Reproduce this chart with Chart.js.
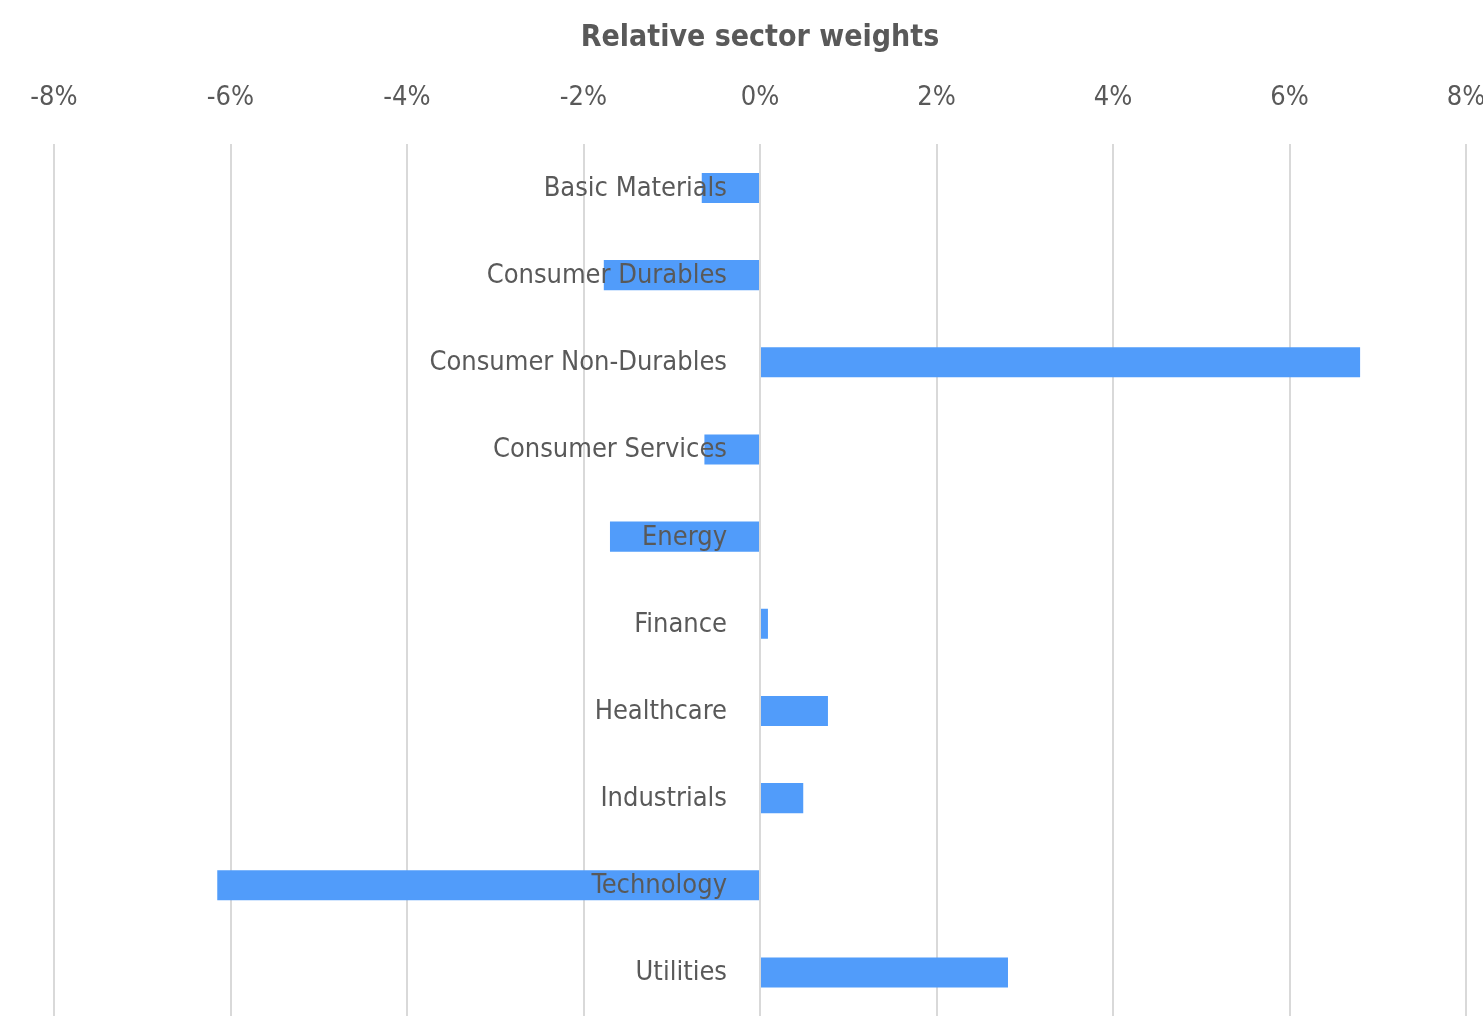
<!DOCTYPE html>
<html>
<head>
<meta charset="utf-8">
<script src="https://cdn.jsdelivr.net/npm/chart.js@4/dist/chart.umd.min.js"></script>
<style>
  html, body { margin: 0; padding: 0; background: #fff; }
  #wrap { width: 1483px; height: 1018px; }
</style>
</head>
<body>
<div id="wrap"><canvas id="chart"></canvas></div>
<script>
const sectors = ['Basic Materials', 'Consumer Durables', 'Consumer Non-Durables', 'Consumer Services',
  'Energy', 'Finance', 'Healthcare', 'Industrials', 'Technology', 'Utilities'];
const weights = [-0.66, -1.77, 6.80, -0.63, -1.70, 0.09, 0.77, 0.49, -6.15, 2.81];
const xTicks = [-8, -6, -4, -2, 0, 2, 4, 6, 8];

const FONT = "'Liberation Sans Narrow', 'DejaVu Sans Condensed', 'Roboto', sans-serif";
const GREY = '#595959';

// category names sit left of the zero line, drawn over the bars
const zeroLabels = {
  id: 'zeroLabels',
  afterDatasetsDraw(chart) {
    const c = chart.ctx;
    const xs = chart.scales.x, ys = chart.scales.y;
    const x0 = xs.getPixelForValue(0) - 33;
    c.save();
    c.font = '27px ' + FONT;
    c.fillStyle = GREY;
    c.textAlign = 'right';
    c.textBaseline = 'middle';
    sectors.forEach((name, i) => {
      c.fillText(name, x0, ys.getPixelForValue(i) + 1);
    });
    c.restore();
  }
};

const ctx = document.getElementById('chart').getContext('2d');
new Chart(ctx, {
  type: 'bar',
  data: {
    labels: sectors,
    datasets: [{
      data: weights,
      backgroundColor: '#519cfa',
      barPercentage: 0.69,
      categoryPercentage: 0.5
    }]
  },
  plugins: [zeroLabels],
  options: {
    indexAxis: 'y',
    responsive: true,
    maintainAspectRatio: false,
    animation: false,
    layout: { padding: { left: 54, right: 17, bottom: 2 } },
    plugins: {
      legend: { display: false },
      tooltip: { enabled: false },
      title: {
        display: true,
        text: 'Relative sector weights',
        color: GREY,
        font: { family: FONT, size: 30, weight: 'bold' },
        padding: { top: 20, bottom: 26 }
      }
    },
    scales: {
      x: {
        position: 'top',
        min: -8,
        max: 8,
        afterBuildTicks: s => { s.ticks = xTicks.map(v => ({ value: v })); },
        afterFit: s => { s.paddingRight = 0; },   // let the 8% label run to the edge
        ticks: {
          color: GREY,
          padding: 0,
          font: { family: FONT, size: 27 },
          callback: v => v + '%'
        },
        grid: { color: '#d9d9d9', lineWidth: 2, drawTicks: true, tickLength: 30, tickColor: 'rgba(0,0,0,0)' },
        border: { display: false }
      },
      y: {
        display: false
      }
    }
  }
});
</script>
</body>
</html>
